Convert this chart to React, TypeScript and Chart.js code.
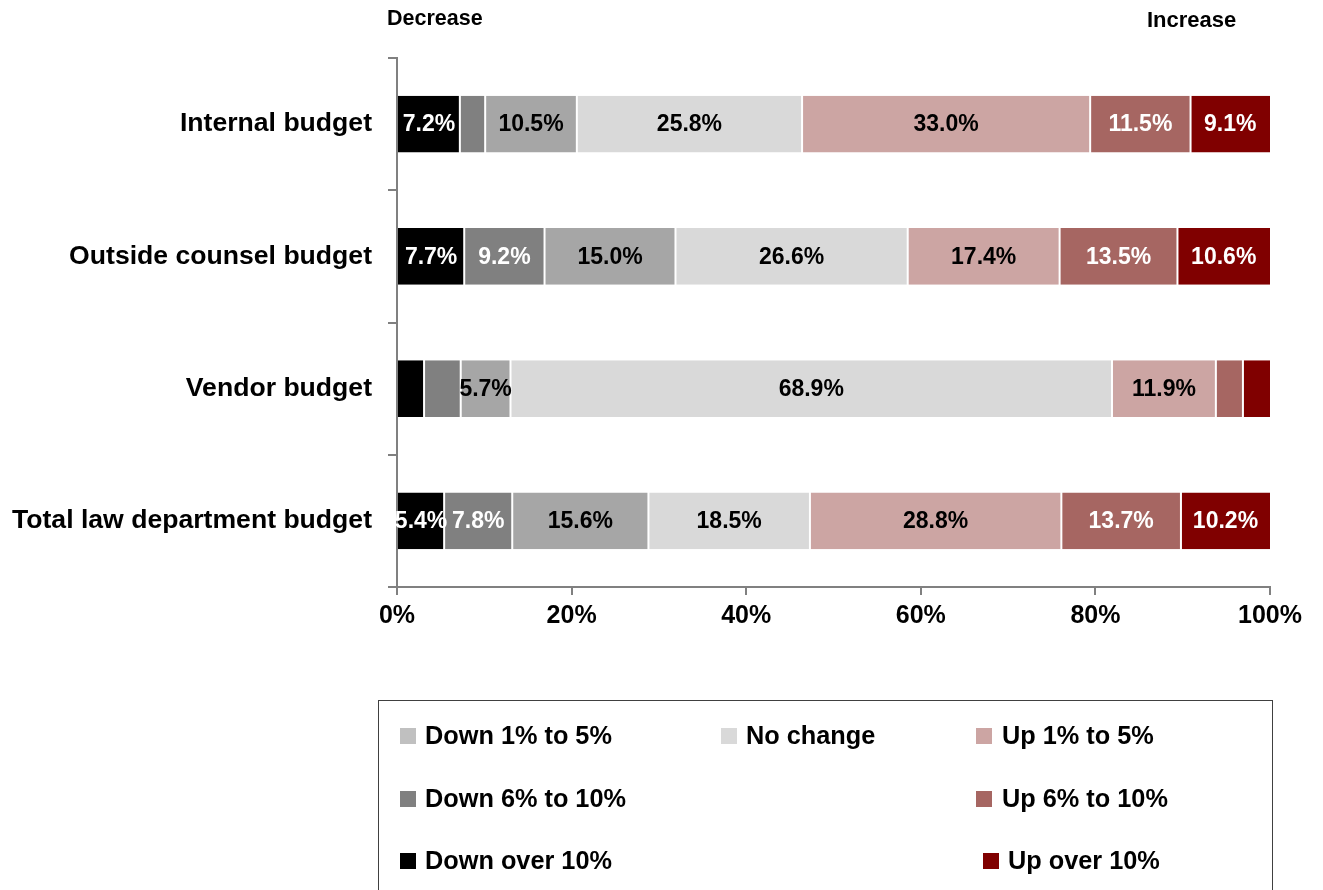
import React, { useEffect, useRef } from "react";
import { Chart, registerables } from "chart.js";

Chart.register(...registerables);

const FONT = "Arial, 'Liberation Sans', Helvetica, sans-serif";

// ---- data ----
const categories = [
  "Internal budget",
  "Outside counsel budget",
  "Vendor budget",
  "Total law department budget",
];
const seriesNames = [
  "Down over 10%",
  "Down 6% to 10%",
  "Down 1% to 5%",
  "No change",
  "Up 1% to 5%",
  "Up 6% to 10%",
  "Up over 10%",
];
const downOver10 = [7.2, 7.7, 3.1, 5.4];
const down6to10 = [2.9, 9.2, 4.2, 7.8];
const down1to5 = [10.5, 15.0, 5.7, 15.6];
const noChange = [25.8, 26.6, 68.9, 18.5];
const up1to5 = [33.0, 17.4, 11.9, 28.8];
const up6to10 = [11.5, 13.5, 3.1, 13.7];
const upOver10 = [9.1, 10.6, 3.1, 10.2];
const xTickLabels = ["0%", "20%", "40%", "60%", "80%", "100%"];
const topLeftLabel = "Decrease";
const topRightLabel = "Increase";

// ---- styles ----
const barColors = ["#000000", "#808080", "#a6a6a6", "#d9d9d9", "#cca5a3", "#a66662", "#800000"];
const labelColors = ["#ffffff", "#ffffff", "#000000", "#000000", "#000000", "#ffffff", "#ffffff"];
const legendSwatchColors = ["#000000", "#808080", "#c0c0c0", "#d9d9d9", "#cca5a3", "#a66662", "#800000"];
const LABEL_MIN = 5;

// legend layout: [series index, swatch x, text x, center y]
const legendLayout: [number, number, number, number][] = [
  [2, 400, 425, 736],
  [3, 721, 746, 736],
  [4, 976, 1002, 736],
  [1, 400, 425, 799],
  [5, 976, 1002, 799],
  [0, 400, 425, 861],
  [6, 983, 1008, 861],
];

const seriesValues = [downOver10, down6to10, down1to5, noChange, up1to5, up6to10, upOver10];

const barLabelsPlugin = {
  id: "barLabels",
  afterDatasetsDraw(chart: any) {
    const ctx = chart.ctx;
    ctx.save();
    ctx.font = `bold 23px ${FONT}`;
    ctx.textAlign = "center";
    ctx.textBaseline = "middle";
    chart.data.datasets.forEach((ds: any, di: number) => {
      const meta = chart.getDatasetMeta(di);
      meta.data.forEach((el: any, i: number) => {
        const v = ds.data[i] as number;
        if (v < LABEL_MIN) return;
        const p = el.getProps(["x", "y", "base"], true);
        ctx.fillStyle = labelColors[di];
        ctx.fillText(v.toFixed(1) + "%", (p.x + p.base) / 2, p.y + 1);
      });
    });
    ctx.restore();
  },
};

export default function App() {
  const canvasRef = useRef<HTMLCanvasElement | null>(null);

  useEffect(() => {
    if (!canvasRef.current) return;
    const last = seriesNames.length - 1;
    const chart = new Chart(canvasRef.current, {
      type: "bar",
      data: {
        labels: categories,
        datasets: seriesNames.map((name, i) => ({
          label: name,
          data: seriesValues[i],
          backgroundColor: barColors[i],
          borderColor: "#ffffff",
          borderWidth: { left: i === 0 ? 0 : 1, right: i === last ? 0 : 1, top: 0, bottom: 0 },
          borderSkipped: false,
          barPercentage: 0.43,
          categoryPercentage: 1,
        })),
      },
      options: {
        indexAxis: "y",
        responsive: false,
        maintainAspectRatio: false,
        animation: false,
        layout: { padding: { top: 58, right: 53, bottom: 890 - 587 - 60, left: 0 } },
        plugins: {
          legend: { display: false },
          tooltip: { enabled: false },
        },
        scales: {
          x: {
            stacked: true,
            min: 0,
            max: 100,
            ticks: {
              stepSize: 20,
              color: "#000000",
              font: { family: FONT, size: 25, weight: "bold" },
              padding: 6,
              callback: (_v: any, idx: number) => xTickLabels[idx],
            },
            grid: {
              drawOnChartArea: false,
              drawTicks: true,
              tickLength: 8,
              color: "#808080",
              lineWidth: 2,
            },
            border: { color: "#808080", width: 2 },
            afterFit: (s: any) => {
              s.height = 60;
            },
          },
          y: {
            stacked: true,
            ticks: {
              color: "#000000",
              font: { family: FONT, size: 26.6, weight: "bold" },
              padding: 16,
            },
            grid: {
              drawOnChartArea: false,
              drawTicks: true,
              tickLength: 9,
              color: "#808080",
              lineWidth: 2,
              offset: true,
            },
            border: { color: "#808080", width: 2 },
            afterFit: (s: any) => {
              s.width = 397;
            },
          },
        },
      },
      plugins: [barLabelsPlugin],
    } as any);
    return () => chart.destroy();
  }, []);

  const textStyle = (size: number, left: number, cy: number): React.CSSProperties => ({
    position: "absolute",
    left,
    top: cy - size / 2,
    fontFamily: FONT,
    fontWeight: "bold",
    fontSize: size,
    lineHeight: `${size}px`,
    color: "#000000",
    whiteSpace: "nowrap",
  });

  return (
    <div
      style={{
        position: "absolute",
        left: 0,
        top: 0,
        width: 1323,
        height: 890,
        overflow: "hidden",
        background: "#ffffff",
      }}
    >
      <canvas
        ref={canvasRef}
        width={1323}
        height={890}
        style={{ position: "absolute", left: 0, top: 0, width: 1323, height: 890, display: "block" }}
      />
      <span style={textStyle(21.5, 387, 18.5)}>{topLeftLabel}</span>
      <span style={textStyle(22, 1147, 19.5)}>{topRightLabel}</span>
      <div
        style={{
          position: "absolute",
          left: 378,
          top: 700,
          width: 1273 - 378,
          height: 220,
          border: "1px solid #404040",
          boxSizing: "border-box",
        }}
      />
      {legendLayout.map(([si, sx, tx, cy]) => (
        <React.Fragment key={si}>
          <div
            style={{
              position: "absolute",
              left: sx,
              top: cy - 8,
              width: 16,
              height: 16,
              background: legendSwatchColors[si],
            }}
          />
          <span style={textStyle(25.3, tx, cy)}>{seriesNames[si]}</span>
        </React.Fragment>
      ))}
    </div>
  );
}
